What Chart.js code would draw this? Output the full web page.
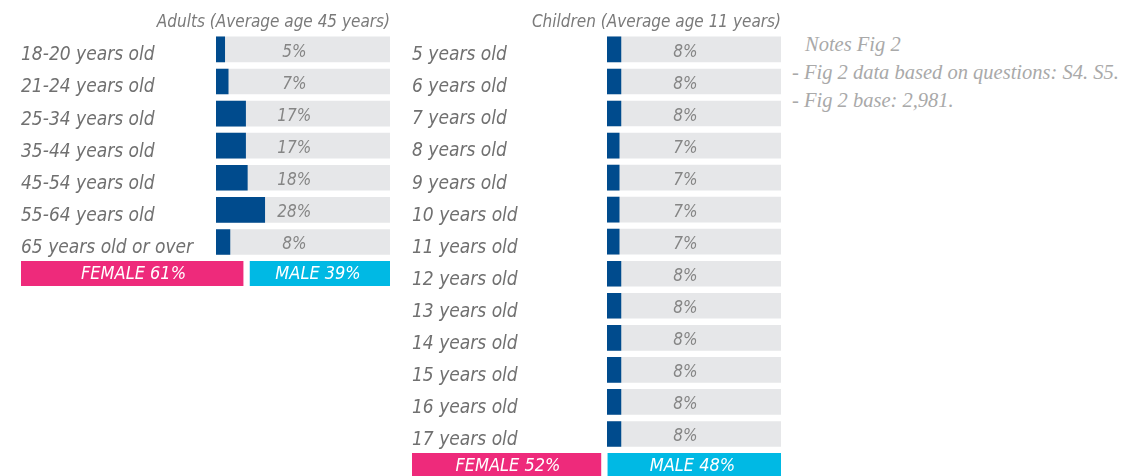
<!DOCTYPE html>
<html>
<head>
<meta charset="utf-8">
<script src="https://cdn.jsdelivr.net/npm/chart.js@4"></script>
<style>
  body { margin: 0; background: #fff; width: 1126px; height: 476px; overflow: hidden; position: relative; }
  canvas { position: absolute; }
  #notes { position: absolute; left: 792px; top: 30px; font: italic 20.5px 'Liberation Serif', 'DejaVu Serif', serif; color: #a9a9a9; line-height: 28px; white-space: nowrap; }
</style>
</head>
<body>
<canvas id="adults" width="390" height="258" style="left:0px;top:0px"></canvas>
<canvas id="adultsGender" width="369" height="25" style="left:21px;top:261px"></canvas>
<canvas id="children" width="390" height="450" style="left:391px;top:0px"></canvas>
<canvas id="childrenGender" width="369" height="25" style="left:412px;top:453px"></canvas>
<div id="notes">
  <div style="padding-left:13px">Notes Fig 2</div>
  <div>- Fig 2 data based on questions: S4. S5.</div>
  <div>- Fig 2 base: 2,981.</div>
</div>
<script>
//------------------------------------------------------------------------------
var adultAges = ['18-20 years old', '21-24 years old', '25-34 years old', '35-44 years old',
                 '45-54 years old', '55-64 years old', '65 years old or over'];
var adultShares = [5, 7, 17, 17, 18, 28, 8];
var adultGender = [61, 39];

var childAges = ['5 years old', '6 years old', '7 years old', '8 years old', '9 years old',
                 '10 years old', '11 years old', '12 years old', '13 years old', '14 years old',
                 '15 years old', '16 years old', '17 years old'];
var childShares = [8, 8, 8, 7, 7, 7, 7, 8, 8, 8, 8, 8, 8];
var childGender = [52, 48];

var genderNames = ['FEMALE', 'MALE'];
var fullScale = 100;
//------------------------------------------------------------------------------
var blue = '#004b8d';
var track = '#e6e7e9';
var pink = '#ee2a7b';
var cyan = '#00b9e4';
var din = "'Liberation Sans Narrow', 'DejaVu Sans Condensed', 'Roboto', sans-serif";

window.onload = function() {
//------------------------------------------------------------------------------
  var pctLabels = {
    id: 'pctLabels',
    afterDatasetsDraw: function(chart) {
      var ctx = chart.ctx;
      var meta = chart.getDatasetMeta(0);
      var xs = chart.scales.x;
      ctx.save();
      ctx.font = 'italic 17px ' + din;
      ctx.fillStyle = '#858585';
      ctx.textAlign = 'center';
      ctx.textBaseline = 'middle';
      meta.data.forEach(function(bar, i) {
        ctx.fillText(chart.data.datasets[0].data[i] + '%', xs.getPixelForValue(45), bar.y + 3);
      });
      ctx.restore();
    }
  };

  var genderLabels = {
    id: 'genderLabels',
    afterDatasetsDraw: function(chart) {
      var ctx = chart.ctx;
      ctx.save();
      ctx.font = 'italic 18px ' + din;
      ctx.fillStyle = '#ffffff';
      ctx.textAlign = 'center';
      ctx.textBaseline = 'middle';
      chart.data.datasets.forEach(function(ds, d) {
        var bar = chart.getDatasetMeta(d).data[0];
        ctx.fillText(ds.label + ' ' + ds.data[0] + '%', (bar.x + bar.base) / 2, bar.y + 1);
      });
      ctx.restore();
    }
  };

//------------------------------------------------------------------------------
  function ageChart(id, title, ages, shares) {
    return new Chart(document.getElementById(id), {
      type: 'bar',
      data: {
        labels: ages,
        datasets: [{
          data: shares,
          backgroundColor: blue,
          order: 0
        }, {
          data: ages.map(function() { return fullScale; }),
          backgroundColor: track,
          order: 1
        }]
      },
      options: {
        indexAxis: 'y',
        responsive: false,
        animation: false,
        grouped: false,
        barThickness: 25,
        layout: { padding: { left: 21, right: 0, top: 0, bottom: 0 } },
        scales: {
          x: { display: false, min: 0, max: fullScale },
          y: {
            grid: { display: false },
            border: { display: false },
            afterFit: function(axis) {
              axis.width = 195;
              axis.paddingTop = 0;
              axis.paddingBottom = 0;
            },
            ticks: {
              crossAlign: 'far',
              padding: 0,
              labelOffset: 6,
              autoSkip: false,
              color: '#707070',
              font: { family: din, size: 19, style: 'italic' }
            }
          }
        },
        plugins: {
          legend: { display: false },
          tooltip: { enabled: false },
          title: {
            display: true,
            text: title,
            align: 'end',
            color: '#7a7a7a',
            font: { family: din, size: 17, style: 'italic', weight: 'normal' },
            padding: { top: 12, bottom: 1 }
          }
        }
      },
      plugins: [pctLabels]
    });
  }

//------------------------------------------------------------------------------
  function genderChart(id, split) {
    return new Chart(document.getElementById(id), {
      type: 'bar',
      data: {
        labels: [''],
        datasets: [{
          label: genderNames[0],
          data: [split[0]],
          backgroundColor: pink,
          borderColor: '#ffffff',
          borderWidth: { left: 0, top: 0, bottom: 0, right: 3 },
          borderSkipped: false
        }, {
          label: genderNames[1],
          data: [split[1]],
          backgroundColor: cyan,
          borderColor: '#ffffff',
          borderWidth: { left: 4, top: 0, bottom: 0, right: 0 },
          borderSkipped: false
        }]
      },
      options: {
        indexAxis: 'y',
        responsive: false,
        animation: false,
        barPercentage: 1,
        categoryPercentage: 1,
        layout: { padding: 0 },
        scales: {
          x: { display: false, stacked: true, min: 0, max: fullScale },
          y: { display: false, stacked: true }
        },
        plugins: {
          legend: { display: false },
          tooltip: { enabled: false }
        }
      },
      plugins: [genderLabels]
    });
  }

//------------------------------------------------------------------------------
  ageChart('adults', 'Adults (Average age 45 years)', adultAges, adultShares);
  genderChart('adultsGender', adultGender);
  ageChart('children', 'Children (Average age 11 years)', childAges, childShares);
  genderChart('childrenGender', childGender);
};
</script>
</body>
</html>
